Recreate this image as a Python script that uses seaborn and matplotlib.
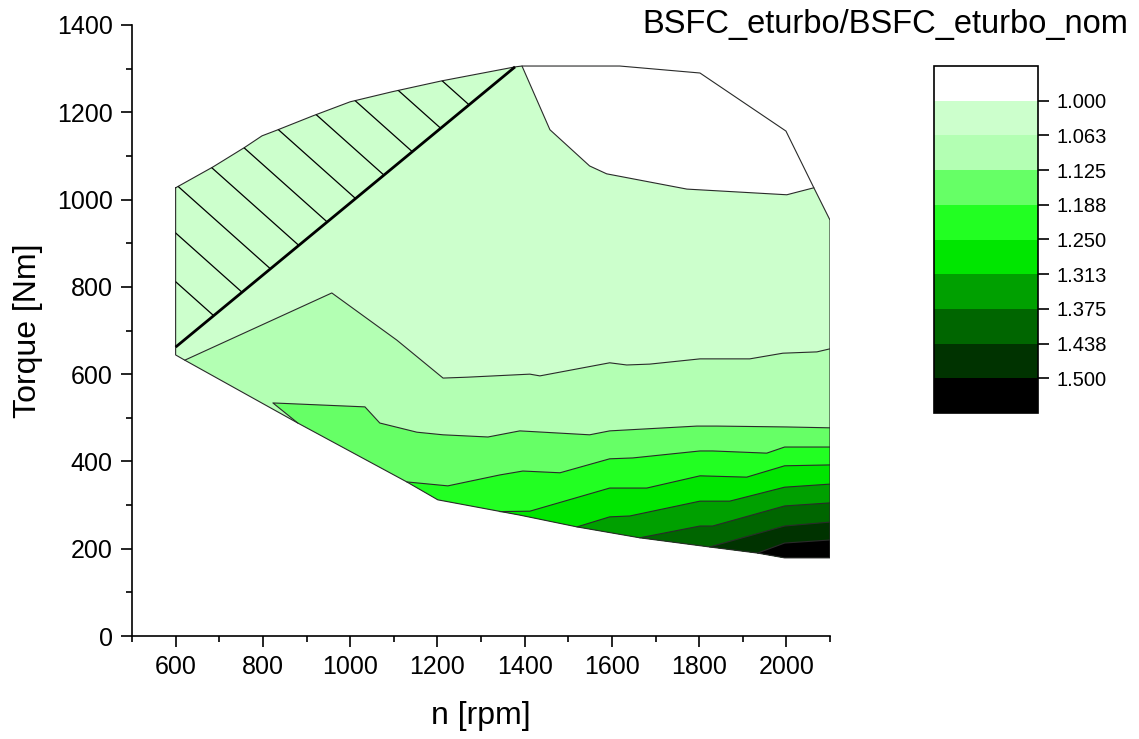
import numpy as np
import pandas as pd
import matplotlib
matplotlib.use("Agg")
import matplotlib.pyplot as plt
from matplotlib.colors import ListedColormap, BoundaryNorm
from matplotlib.colorbar import ColorbarBase
from matplotlib.patches import Polygon
import seaborn as sns

# operating envelope of the engine map, n [rpm] / torque [Nm]
upper_n = [600, 686, 759, 798, 832, 915, 1000, 1096, 1210, 1378, 1394, 1618, 1802, 1999, 2063, 2100]
upper_t = [1027, 1075, 1120, 1146, 1159, 1192, 1224, 1247, 1272, 1304, 1306, 1306, 1290, 1157, 1027, 953]
lower_n = [600, 621, 880, 1130, 1201, 1389, 1520, 1664, 1824, 1934, 1996, 2100]
lower_t = [644, 632, 488, 353, 312, 277, 250, 225, 204, 190, 179, 179]

# iso lines of BSFC_eturbo/BSFC_eturbo_nom
iso_1000_n = [1394, 1458, 1549, 1588, 1772, 2001, 2063]
iso_1000_t = [1306, 1160, 1077, 1059, 1024, 1011, 1027]
iso_1063_n = [621, 958, 1107, 1213, 1268, 1412, 1435, 1595, 1634, 1687, 1802, 1916, 1992, 2070, 2100]
iso_1063_t = [632, 786, 678, 591, 593, 600, 596, 626, 621, 623, 635, 635, 648, 651, 658]
iso_1125_n = [880, 823, 1034, 1068, 1153, 1213, 1316, 1389, 1549, 1595, 1795, 1841, 2001, 2100]
iso_1125_t = [488, 534, 525, 488, 467, 461, 456, 470, 461, 470, 481, 481, 479, 477]
iso_1188_n = [1130, 1224, 1343, 1396, 1481, 1595, 1648, 1802, 1831, 1955, 1996, 2100]
iso_1188_t = [353, 344, 369, 378, 374, 406, 408, 424, 424, 419, 433, 433]
iso_1250_n = [1343, 1412, 1595, 1680, 1802, 1909, 1996, 2100]
iso_1250_t = [285, 286, 339, 339, 367, 364, 390, 392]
iso_1313_n = [1520, 1595, 1641, 1802, 1870, 1996, 2100]
iso_1313_t = [250, 273, 275, 309, 309, 341, 348]
iso_1375_n = [1664, 1802, 1831, 1996, 2100]
iso_1375_t = [225, 252, 252, 298, 305]
iso_1438_n = [1824, 1996, 2100]
iso_1438_t = [204, 252, 261]
iso_1500_n = [1934, 1996, 2100]
iso_1500_t = [190, 213, 220]

# hatched (excluded) area limit line
limit_n = [600, 1378]
limit_t = [662, 1304]

levels = [1.0, 1.0625, 1.125, 1.1875, 1.25, 1.3125, 1.375, 1.4375, 1.5]
level_labels = ['1.000', '1.063', '1.125', '1.188', '1.250', '1.313', '1.375', '1.438', '1.500']
band_colors = ['#ffffff', '#ccffcc', '#b3ffb3', '#66ff66', '#22ff22',
               '#00e600', '#00a000', '#006600', '#003300', '#000000']

iso_lines = {
    1.0625: (iso_1063_n, iso_1063_t),
    1.125: (iso_1125_n, iso_1125_t),
    1.1875: (iso_1188_n, iso_1188_t),
    1.25: (iso_1250_n, iso_1250_t),
    1.3125: (iso_1313_n, iso_1313_t),
    1.375: (iso_1375_n, iso_1375_t),
    1.4375: (iso_1438_n, iso_1438_t),
    1.5: (iso_1500_n, iso_1500_t),
}

sns.set_style("ticks", {'axes.edgecolor': 'black', 'text.color': 'black',
                        'axes.labelcolor': 'black', 'xtick.color': 'black',
                        'ytick.color': 'black'})
plt.rcParams['font.family'] = ['Liberation Sans', 'DejaVu Sans']

fig = plt.figure(figsize=(11.39, 7.39), dpi=100)
ax = fig.add_axes([132 / 1139, 1 - 636 / 739, 698 / 1139, 611 / 739])

line_col = '#2a2a2a'

# envelope -> lowest band
env_n = upper_n + lower_n[::-1]
env_t = upper_t + lower_t[::-1]
ax.fill(env_n, env_t, color=band_colors[1], lw=0, zorder=1)

# region below 1.000 (top right)
i0 = upper_n.index(iso_1000_n[0])
i1 = upper_n.index(iso_1000_n[-1])
wn = iso_1000_n + upper_n[i0 + 1:i1][::-1]
wt = iso_1000_t + upper_t[i0 + 1:i1][::-1]
ax.fill(wn, wt, color=band_colors[0], lw=0, zorder=2)

# higher bands layered on top, each closed along the lower envelope
for k, lev in enumerate(levels[1:]):
    xs, ys = iso_lines[lev]
    below = [(n, t) for n, t in zip(lower_n, lower_t) if n > xs[0]][::-1]
    pn = xs + [p[0] for p in below]
    pt = ys + [p[1] for p in below]
    ax.fill(pn, pt, color=band_colors[k + 2], lw=0, zorder=3 + k)

# iso lines
rows = []
for lev, (xs, ys) in [(1.0, (iso_1000_n, iso_1000_t))] + list(iso_lines.items()):
    for i, (n, t) in enumerate(zip(xs, ys)):
        rows.append({'level': lev, 'i': i, 'n': n, 'T': t})
iso_df = pd.DataFrame(rows)
sns.lineplot(data=iso_df, x='n', y='T', units='level', estimator=None, sort=False,
             color=line_col, lw=0.8, ax=ax, zorder=20)

# envelope outline
ax.plot(env_n + [env_n[0]], env_t + [env_t[0]], color=line_col, lw=0.8, zorder=21)

# hatched area
hi = upper_n.index(limit_n[1])
hatch_n = limit_n + upper_n[:hi][::-1]
hatch_t = limit_t + upper_t[:hi][::-1]
clip = Polygon(np.column_stack([hatch_n, hatch_t]), closed=True,
               transform=ax.transData, facecolor='none', edgecolor='none')
ax.add_patch(clip)
hn = np.array([500, 1500])
for c in np.arange(1347, 2420, 111.7):
    hl, = ax.plot(hn, c - 0.892 * hn, color='black', lw=0.9, zorder=22)
    hl.set_clip_path(clip)
ax.plot(limit_n, limit_t, color='black', lw=2.0, zorder=23, solid_capstyle='butt')

ax.set_xlim(500, 2100)
ax.set_ylim(0, 1400)
ax.set_xticks(np.arange(600, 2001, 200))
ax.set_xticks(np.arange(500, 2101, 200), minor=True)
ax.set_yticks(np.arange(0, 1401, 200))
ax.set_yticks(np.arange(100, 1400, 200), minor=True)
sns.despine(ax=ax)
for s in ['left', 'bottom']:
    ax.spines[s].set_linewidth(1.2)
    ax.spines[s].set_color('black')
ax.tick_params(which='major', direction='out', length=8, width=1.2, labelsize=18, pad=6, colors='black')
ax.tick_params(which='minor', direction='out', length=4, width=1.2, colors='black')
ax.set_xlabel('n [rpm]', fontsize=23, color='black')
ax.set_ylabel('Torque [Nm]', fontsize=23, color='black')
ax.xaxis.set_label_coords(0.5, -0.106)
ax.yaxis.set_label_coords(-0.1275, 0.5)

fig.text(1128 / 1139, 1 - 33 / 739, 'BSFC_eturbo/BSFC_eturbo_nom', ha='right', va='baseline',
         fontsize=23.5, color='black')

# colour scale
cax = fig.add_axes([934 / 1139, 1 - 413 / 739, 104 / 1139, 347 / 739])
bounds = [0.9375] + levels + [1.5625]
cmap = ListedColormap(band_colors)
norm = BoundaryNorm(bounds, cmap.N)
cb = ColorbarBase(cax, cmap=cmap, norm=norm, boundaries=bounds, ticks=levels, orientation='vertical')
cb.set_ticklabels(level_labels)
cb.outline.set_linewidth(1.2)
cb.outline.set_edgecolor('black')
cax.invert_yaxis()
cax.tick_params(direction='out', length=8, width=1.2, labelsize=14.5, pad=5, colors='black')
cax.minorticks_off()

fig.savefig('out.png', dpi=100)
